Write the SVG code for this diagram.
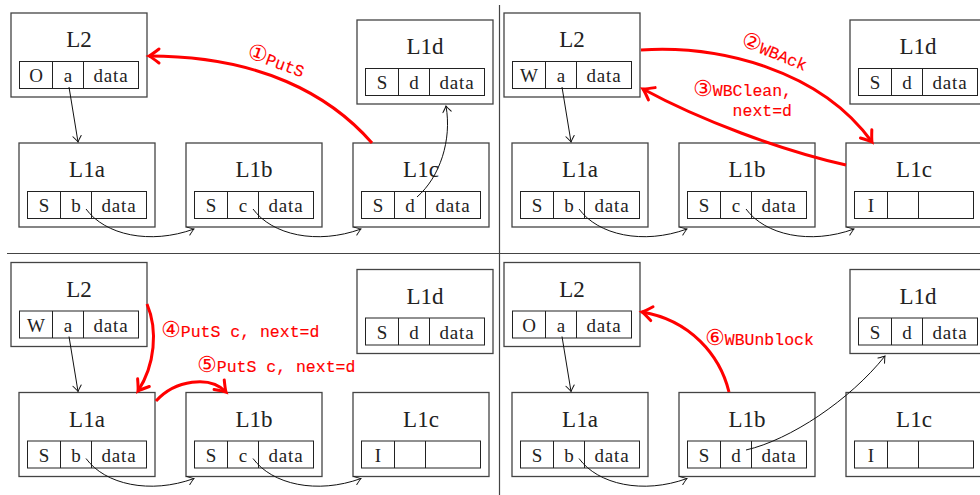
<svg xmlns="http://www.w3.org/2000/svg" width="980" height="495" viewBox="0 0 980 495">
<style>
.box{fill:#fff;stroke:#444;stroke-width:1.3}
.tbl{fill:none;stroke:#222;stroke-width:1}
.title{font-family:"Liberation Serif","DejaVu Serif",serif;font-size:23px;fill:#222;text-anchor:middle}
.cell{font-family:"Liberation Serif","DejaVu Serif",serif;font-size:19px;fill:#222;text-anchor:middle}
.data{letter-spacing:0.8px}
.conn{fill:none;stroke:#111;stroke-width:1}
.red{fill:none;stroke:#f00;stroke-width:3}
.lbl{font-family:"Liberation Mono","DejaVu Sans Mono","DejaVu Sans",monospace;font-size:16.5px;fill:#f00;stroke:#f00;stroke-width:0.15}
.num{font-family:"DejaVu Sans","Noto Sans CJK SC",sans-serif;font-size:22px;stroke-width:0}
.sep{stroke:#444;stroke-width:1.2}
</style>
<defs>
<marker id="ah" markerUnits="userSpaceOnUse" markerWidth="14" markerHeight="14" viewBox="-8 -7 10 14" refX="0" refY="0" orient="auto">
<path d="M-6,-4.2 Q-1.5,-0.8 0,0 Q-1.5,0.8 -6,4.2" fill="none" stroke="#111" stroke-width="1" stroke-linecap="round"/>
</marker>
<marker id="rh" markerUnits="userSpaceOnUse" markerWidth="22" markerHeight="22" viewBox="-14 -11 18 22" refX="0" refY="0" orient="auto">
<path d="M-10,-7 Q-2.5,-1.2 0,0 Q-2.5,1.2 -10,7" fill="none" stroke="#f00" stroke-width="3" stroke-linecap="round"/>
</marker>
</defs>
<rect width="980" height="495" fill="#fff"/>
<g id="panel-lines">
<line class="sep" x1="7" y1="253.5" x2="980" y2="253.5"/>
<line class="sep" x1="499.5" y1="5" x2="499.5" y2="495"/>
</g>

<!-- Top-left panel -->
<g id="tl-L2" transform="translate(11,13)"><rect class="box" width="136" height="84"/><text class="title" x="68" y="34">L2</text><rect class="tbl" x="8.5" y="48.5" width="119" height="27"/><path class="tbl" d="M41.5,48.5v27M72.5,48.5v27"/><text class="cell" x="25" y="69">O</text><text class="cell" x="57" y="69">a</text><text class="cell data" x="100" y="69">data</text></g>
<g id="tl-L1d" transform="translate(357,20)"><rect class="box" width="136" height="84"/><text class="title" x="68" y="34">L1d</text><rect class="tbl" x="8.5" y="48.5" width="119" height="27"/><path class="tbl" d="M41.5,48.5v27M72.5,48.5v27"/><text class="cell" x="25" y="69">S</text><text class="cell" x="57" y="69">d</text><text class="cell data" x="100" y="69">data</text></g>
<g id="tl-L1a" transform="translate(19,143)"><rect class="box" width="136" height="84"/><text class="title" x="68" y="34">L1a</text><rect class="tbl" x="8.5" y="48.5" width="119" height="27"/><path class="tbl" d="M41.5,48.5v27M72.5,48.5v27"/><text class="cell" x="25" y="69">S</text><text class="cell" x="57" y="69">b</text><text class="cell data" x="100" y="69">data</text></g>
<g id="tl-L1b" transform="translate(186,143)"><rect class="box" width="136" height="84"/><text class="title" x="68" y="34">L1b</text><rect class="tbl" x="8.5" y="48.5" width="119" height="27"/><path class="tbl" d="M41.5,48.5v27M72.5,48.5v27"/><text class="cell" x="25" y="69">S</text><text class="cell" x="57" y="69">c</text><text class="cell data" x="100" y="69">data</text></g>
<g id="tl-L1c" transform="translate(353,143)"><rect class="box" width="136" height="84"/><text class="title" x="68" y="34">L1c</text><rect class="tbl" x="8.5" y="48.5" width="119" height="27"/><path class="tbl" d="M41.5,48.5v27M72.5,48.5v27"/><text class="cell" x="25" y="69">S</text><text class="cell" x="57" y="69">d</text><text class="cell data" x="100" y="69">data</text></g>

<!-- Top-right panel -->
<g id="tr-L2" transform="translate(504,13)"><rect class="box" width="136" height="84"/><text class="title" x="68" y="34">L2</text><rect class="tbl" x="8.5" y="48.5" width="119" height="27"/><path class="tbl" d="M41.5,48.5v27M72.5,48.5v27"/><text class="cell" x="25" y="69">W</text><text class="cell" x="57" y="69">a</text><text class="cell data" x="100" y="69">data</text></g>
<g id="tr-L1d" transform="translate(850,20)"><rect class="box" width="136" height="84"/><text class="title" x="68" y="34">L1d</text><rect class="tbl" x="8.5" y="48.5" width="119" height="27"/><path class="tbl" d="M41.5,48.5v27M72.5,48.5v27"/><text class="cell" x="25" y="69">S</text><text class="cell" x="57" y="69">d</text><text class="cell data" x="100" y="69">data</text></g>
<g id="tr-L1a" transform="translate(512,143)"><rect class="box" width="136" height="84"/><text class="title" x="68" y="34">L1a</text><rect class="tbl" x="8.5" y="48.5" width="119" height="27"/><path class="tbl" d="M41.5,48.5v27M72.5,48.5v27"/><text class="cell" x="25" y="69">S</text><text class="cell" x="57" y="69">b</text><text class="cell data" x="100" y="69">data</text></g>
<g id="tr-L1b" transform="translate(679,143)"><rect class="box" width="136" height="84"/><text class="title" x="68" y="34">L1b</text><rect class="tbl" x="8.5" y="48.5" width="119" height="27"/><path class="tbl" d="M41.5,48.5v27M72.5,48.5v27"/><text class="cell" x="25" y="69">S</text><text class="cell" x="57" y="69">c</text><text class="cell data" x="100" y="69">data</text></g>
<g id="tr-L1c" transform="translate(846,143)"><rect class="box" width="136" height="84"/><text class="title" x="68" y="34">L1c</text><rect class="tbl" x="8.5" y="48.5" width="119" height="27"/><path class="tbl" d="M41.5,48.5v27M72.5,48.5v27"/><text class="cell" x="25" y="69">I</text></g>

<!-- Bottom-left panel -->
<g id="bl-L2" transform="translate(11,262.5)"><rect class="box" width="136" height="84"/><text class="title" x="68" y="34">L2</text><rect class="tbl" x="8.5" y="48.5" width="119" height="27"/><path class="tbl" d="M41.5,48.5v27M72.5,48.5v27"/><text class="cell" x="25" y="69">W</text><text class="cell" x="57" y="69">a</text><text class="cell data" x="100" y="69">data</text></g>
<g id="bl-L1d" transform="translate(357,269.5)"><rect class="box" width="136" height="84"/><text class="title" x="68" y="34">L1d</text><rect class="tbl" x="8.5" y="48.5" width="119" height="27"/><path class="tbl" d="M41.5,48.5v27M72.5,48.5v27"/><text class="cell" x="25" y="69">S</text><text class="cell" x="57" y="69">d</text><text class="cell data" x="100" y="69">data</text></g>
<g id="bl-L1a" transform="translate(19,392.5)"><rect class="box" width="136" height="84"/><text class="title" x="68" y="34">L1a</text><rect class="tbl" x="8.5" y="48.5" width="119" height="27"/><path class="tbl" d="M41.5,48.5v27M72.5,48.5v27"/><text class="cell" x="25" y="69">S</text><text class="cell" x="57" y="69">b</text><text class="cell data" x="100" y="69">data</text></g>
<g id="bl-L1b" transform="translate(186,392.5)"><rect class="box" width="136" height="84"/><text class="title" x="68" y="34">L1b</text><rect class="tbl" x="8.5" y="48.5" width="119" height="27"/><path class="tbl" d="M41.5,48.5v27M72.5,48.5v27"/><text class="cell" x="25" y="69">S</text><text class="cell" x="57" y="69">c</text><text class="cell data" x="100" y="69">data</text></g>
<g id="bl-L1c" transform="translate(353,392.5)"><rect class="box" width="136" height="84"/><text class="title" x="68" y="34">L1c</text><rect class="tbl" x="8.5" y="48.5" width="119" height="27"/><path class="tbl" d="M41.5,48.5v27M72.5,48.5v27"/><text class="cell" x="25" y="69">I</text></g>

<!-- Bottom-right panel -->
<g id="br-L2" transform="translate(504,262.5)"><rect class="box" width="136" height="84"/><text class="title" x="68" y="34">L2</text><rect class="tbl" x="8.5" y="48.5" width="119" height="27"/><path class="tbl" d="M41.5,48.5v27M72.5,48.5v27"/><text class="cell" x="25" y="69">O</text><text class="cell" x="57" y="69">a</text><text class="cell data" x="100" y="69">data</text></g>
<g id="br-L1d" transform="translate(850,269.5)"><rect class="box" width="136" height="84"/><text class="title" x="68" y="34">L1d</text><rect class="tbl" x="8.5" y="48.5" width="119" height="27"/><path class="tbl" d="M41.5,48.5v27M72.5,48.5v27"/><text class="cell" x="25" y="69">S</text><text class="cell" x="57" y="69">d</text><text class="cell data" x="100" y="69">data</text></g>
<g id="br-L1a" transform="translate(512,392.5)"><rect class="box" width="136" height="84"/><text class="title" x="68" y="34">L1a</text><rect class="tbl" x="8.5" y="48.5" width="119" height="27"/><path class="tbl" d="M41.5,48.5v27M72.5,48.5v27"/><text class="cell" x="25" y="69">S</text><text class="cell" x="57" y="69">b</text><text class="cell data" x="100" y="69">data</text></g>
<g id="br-L1b" transform="translate(679,392.5)"><rect class="box" width="136" height="84"/><text class="title" x="68" y="34">L1b</text><rect class="tbl" x="8.5" y="48.5" width="119" height="27"/><path class="tbl" d="M41.5,48.5v27M72.5,48.5v27"/><text class="cell" x="25" y="69">S</text><text class="cell" x="57" y="69">d</text><text class="cell data" x="100" y="69">data</text></g>
<g id="br-L1c" transform="translate(846,392.5)"><rect class="box" width="136" height="84"/><text class="title" x="68" y="34">L1c</text><rect class="tbl" x="8.5" y="48.5" width="119" height="27"/><path class="tbl" d="M41.5,48.5v27M72.5,48.5v27"/><text class="cell" x="25" y="69">I</text></g>

<g id="connectors">
<g id="tl-links">
<path class="conn" marker-end="url(#ah)" d="M69,87 L78,142"/>
<path class="conn" marker-end="url(#ah)" d="M86,209 C105,235 150,245 194,229"/>
<path class="conn" marker-end="url(#ah)" d="M253,209 C272,235 317,245 361,229"/>
<path class="conn" marker-end="url(#ah)" d="M417,197 C440,177 452,140 446,106"/>
</g>
<g id="tr-links" transform="translate(493,0)">
<path class="conn" marker-end="url(#ah)" d="M69,87 L78,142"/>
<path class="conn" marker-end="url(#ah)" d="M86,209 C105,235 150,245 194,229"/>
<path class="conn" marker-end="url(#ah)" d="M253,209 C272,235 317,245 361,229"/>
</g>
<g id="bl-links" transform="translate(0,249.5)">
<path class="conn" marker-end="url(#ah)" d="M69,87 L78,142"/>
<path class="conn" marker-end="url(#ah)" d="M86,209 C105,235 150,245 194,229"/>
<path class="conn" marker-end="url(#ah)" d="M253,209 C272,235 317,245 361,229"/>
</g>
<g id="br-links">
<path class="conn" marker-end="url(#ah)" transform="translate(493,249.5)" d="M69,87 L78,142"/>
<path class="conn" marker-end="url(#ah)" transform="translate(493,249.5)" d="M86,209 C105,235 150,245 194,229"/>
<path class="conn" marker-end="url(#ah)" d="M746,450 C790,440 850,400 885,356"/>
</g>
<g id="messages">
<path class="red" marker-end="url(#rh)" d="M372,143 C330,95 260,56 149,56"/>
<path class="red" marker-end="url(#rh)" d="M641,50 C720,45 820,70 872,142"/>
<path class="red" marker-end="url(#rh)" d="M846,165 C780,150 700,120 643,89"/>
<path class="red" marker-end="url(#rh)" d="M147,304 C158,330 155,365 138,391"/>
<path class="red" marker-end="url(#rh)" d="M156,401 C175,380 210,375 226,392"/>
<path class="red" marker-end="url(#rh)" d="M729,392 C720,355 690,320 642,312"/>
</g>
</g>

<g id="labels">
<text class="lbl" transform="translate(246,57) rotate(20)"><tspan class="num">①</tspan>PutS</text>
<text class="lbl" transform="translate(740,45) rotate(22)"><tspan class="num">②</tspan>WBAck</text>
<text class="lbl" x="792" y="96" text-anchor="end"><tspan class="num">③</tspan>WBClean,</text>
<text class="lbl" x="792" y="116" text-anchor="end">next=d</text>
<text class="lbl" x="161" y="337"><tspan class="num">④</tspan>PutS c, next=d</text>
<text class="lbl" x="197" y="372"><tspan class="num">⑤</tspan>PutS c, next=d</text>
<text class="lbl" x="705" y="345"><tspan class="num">⑥</tspan>WBUnblock</text>
</g>
</svg>
